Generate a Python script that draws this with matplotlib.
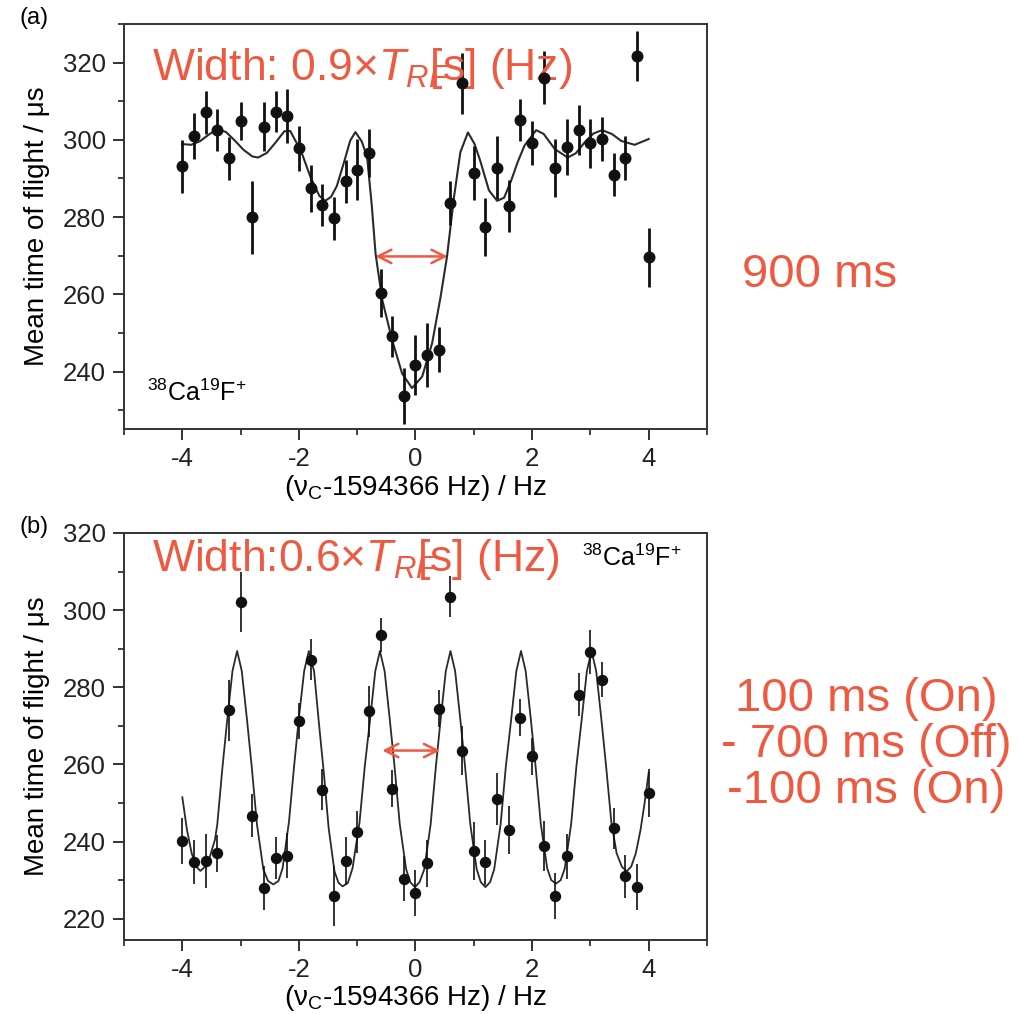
import matplotlib
matplotlib.use("Agg")
import matplotlib.pyplot as plt
from matplotlib.ticker import MultipleLocator

plt.rcParams["font.family"] = ["Liberation Sans", "DejaVu Sans"]
plt.rcParams["mathtext.fontset"] = "custom"
plt.rcParams["mathtext.rm"] = "Liberation Sans"
plt.rcParams["mathtext.it"] = "Liberation Sans:italic"
plt.rcParams["axes.unicode_minus"] = False

RED = "#EF5940"

# measured frequencies (both panels share the grid)
freq = [-4.0, -3.8, -3.6, -3.4, -3.2, -3.0, -2.8, -2.6, -2.4, -2.2, -2.0,
        -1.8, -1.6, -1.4, -1.2, -1.0, -0.8, -0.6, -0.4, -0.2, 0.0,
        0.2, 0.4, 0.6, 0.8, 1.0, 1.2, 1.4, 1.6, 1.8, 2.0,
        2.2, 2.4, 2.6, 2.8, 3.0, 3.2, 3.4, 3.6, 3.8, 4.0]

# (a) 900 ms continuous excitation
tof_a = [293.1, 300.9, 307.1, 302.5, 295.2, 304.9, 279.9, 303.4, 307.3, 306.2,
         297.8, 287.4, 283.1, 279.7, 289.2, 292.2, 296.6, 260.3, 249.1, 233.6,
         241.6, 244.3, 245.6, 283.6, 314.6, 291.3, 277.3, 292.8, 282.8, 305.1,
         299.2, 316.1, 292.7, 298.2, 302.5, 299.1, 300.3, 291.0, 295.2, 321.7,
         269.6]
err_a = [6.8, 6.0, 5.5, 5.5, 5.6, 5.0, 9.4, 6.4, 5.4, 7.0,
         5.8, 6.0, 5.4, 5.6, 5.6, 7.9, 6.2, 6.2, 5.4, 7.3,
         7.8, 8.2, 5.8, 5.6, 8.0, 7.0, 7.5, 8.2, 6.7, 5.5,
         5.6, 6.8, 7.5, 7.3, 6.4, 6.4, 5.7, 5.6, 5.7, 6.5,
         7.6]

# fit line (a)
fit_a_x = [-4.00, -3.85, -3.70, -3.55, -3.40, -3.25, -3.10, -2.95, -2.80, -2.70,
           -2.55, -2.40, -2.25, -2.15, -2.05, -1.95, -1.80, -1.65, -1.55, -1.45,
           -1.35, -1.22, -1.12, -1.03, -0.92, -0.83, -0.75, -0.685, -0.57, -0.40,
           -0.23, -0.06, 0.115, 0.285, 0.43, 0.54, 0.66, 0.77, 0.90, 1.01,
           1.11, 1.26, 1.40, 1.52, 1.64, 1.76, 1.87, 2.07, 2.20, 2.39,
           2.61, 2.75, 2.90, 3.05, 3.20, 3.37, 3.53, 3.76, 4.00]
fit_a_y = [298.9, 298.7, 299.6, 301.3, 302.8, 302.0, 299.8, 297.4, 295.7, 295.4,
           296.6, 299.3, 302.2, 302.3, 299.5, 296.5, 290.3, 285.5, 284.2, 285.2,
           288.0, 294.5, 299.8, 302.0, 299.5, 295.5, 283.0, 270.5, 258.5, 248.1,
           239.5, 235.7, 238.7, 247.3, 259.3, 269.7, 285.1, 296.8, 301.9, 299.0,
           294.6, 286.9, 284.2, 285.0, 289.4, 294.5, 298.5, 302.5, 301.5, 297.6,
           295.4, 296.5, 299.3, 301.6, 302.5, 301.5, 299.7, 298.7, 300.2]

# (b) 100 ms on - 700 ms off - 100 ms on
tof_b = [240.1, 234.7, 234.9, 237.0, 274.0, 302.1, 246.7, 227.9, 235.7, 236.3,
         271.2, 287.2, 253.5, 225.8, 235.0, 242.5, 273.8, 293.5, 253.7, 230.4,
         226.6, 234.4, 274.4, 303.5, 263.6, 237.6, 234.6, 251.0, 242.9, 272.1,
         262.1, 238.9, 225.9, 236.2, 278.1, 289.1, 282.0, 243.5, 231.0, 228.2,
         252.6]
err_b = [5.9, 5.6, 7.0, 4.8, 7.9, 7.9, 5.6, 5.7, 5.5, 5.8,
         4.7, 5.2, 5.2, 7.8, 6.2, 5.4, 6.6, 4.4, 4.8, 5.8,
         6.0, 6.1, 4.8, 5.3, 6.3, 7.6, 5.8, 6.8, 6.2, 4.8,
         4.8, 6.5, 5.9, 5.8, 5.5, 5.7, 4.5, 5.3, 5.6, 6.0,
         6.2]

fit_b_x = [-4.00, -3.92, -3.84, -3.76, -3.69, -3.61, -3.53, -3.44, -3.40, -3.31,
           -3.23, -3.14, -3.06, -2.98, -2.89, -2.81, -2.72, -2.61, -2.53, -2.44,
           -2.35, -2.28, -2.17, -2.08, -2.00, -1.91, -1.83, -1.74, -1.66, -1.57,
           -1.49, -1.39, -1.32, -1.25, -1.16, -1.08, -0.96, -0.87, -0.78, -0.69,
           -0.61, -0.53, -0.44, -0.36, -0.27, -0.16, -0.09, -0.01, 0.07, 0.15,
           0.26, 0.35, 0.43, 0.52, 0.60, 0.68, 0.77, 0.85, 0.94, 1.05,
           1.12, 1.20, 1.28, 1.35, 1.46, 1.55, 1.64, 1.73, 1.81, 1.89,
           1.98, 2.06, 2.15, 2.26, 2.33, 2.41, 2.49, 2.56, 2.67, 2.76,
           2.85, 2.94, 3.02, 3.10, 3.19, 3.27, 3.36, 3.45, 3.54, 3.62,
           3.70, 3.78, 3.86, 3.93, 4.00]
fit_b_y = [251.5, 243.0, 237.0, 233.5, 232.4, 233.5, 236.0, 240.5, 244.5, 259.5,
           271.5, 284.2, 289.4, 284.2, 271.5, 259.5, 244.5, 232.8, 229.8, 228.9,
           229.8, 233.1, 245.2, 260.0, 272.1, 284.2, 289.4, 284.2, 271.2, 257.4,
           243.5, 232.3, 229.3, 228.4, 229.3, 233.1, 245.0, 259.5, 271.5, 284.2,
           289.4, 284.2, 271.5, 259.5, 244.5, 232.8, 229.5, 228.2, 229.5, 232.8,
           244.5, 259.5, 271.5, 284.2, 289.4, 284.2, 271.5, 259.5, 244.5, 232.8,
           229.5, 228.2, 229.5, 232.8, 244.5, 259.5, 271.5, 284.2, 289.4, 284.2,
           271.5, 259.5, 244.5, 233.0, 230.0, 229.1, 230.0, 233.0, 244.5, 259.5,
           271.5, 284.2, 289.4, 284.2, 271.5, 259.5, 245.0, 237.0, 233.5, 232.3,
           233.5, 237.0, 243.0, 250.0, 257.8]

# FWHM arrows
arrow_a = (-0.69, 0.55, 269.8)
arrow_b = (-0.57, 0.42, 263.6)


def style_axes(ax, ylim, yticks):
    ax.set_xlim(-5, 5)
    ax.set_ylim(*ylim)
    ax.set_xticks([-4, -2, 0, 2, 4])
    ax.xaxis.set_minor_locator(MultipleLocator(1))
    ax.set_yticks(yticks)
    ax.yaxis.set_minor_locator(MultipleLocator(10))
    ax.tick_params(which="major", direction="out", length=8, width=1.3,
                   labelsize=18.5, colors="#222", pad=5)
    ax.tick_params(which="minor", direction="out", length=4.5, width=1.2, colors="#222")
    for s in ax.spines.values():
        s.set_linewidth(1.4)
        s.set_color("#333")
    ax.set_xlabel("(\u03bd$_{\\mathrm{C}}$-1594366 Hz) / Hz", fontsize=20, labelpad=1)
    ax.set_ylabel("Mean time of flight / \u03bcs", fontsize=20, labelpad=9)


fig = plt.figure(figsize=(10.2, 10.14), dpi=100)
ax_a = fig.add_axes([0.1216, 0.5765, 0.5715, 0.3999])
ax_b = fig.add_axes([0.1216, 0.073, 0.5715, 0.4014])

# (a)
ax_a.plot(fit_a_x, fit_a_y, color="#2a2a2a", lw=1.5, zorder=2)
ax_a.errorbar(freq, tof_a, yerr=err_a, fmt="o", color="#111", ms=7.6,
              elinewidth=2.0, capsize=0, zorder=3)
style_axes(ax_a, (225, 330), [240, 260, 280, 300, 320])
ax_a.annotate("", xy=(arrow_a[0], arrow_a[2]), xytext=(arrow_a[1], arrow_a[2]),
              arrowprops=dict(arrowstyle="<->", color=RED, lw=1.8,
                              mutation_scale=24, shrinkA=0, shrinkB=0), zorder=4)
ax_a.text(-4.52, 318.5, r"Width: 0.9$\times$$T_{RF}$$\!\!\!$[s] (Hz)", color=RED,
          fontsize=32, va="center", ha="left")
ax_a.text(-4.6, 234.5, r"$^{38}$Ca$^{19}$F$^{+}$", fontsize=18, va="center", ha="left")

# (b)
ax_b.plot(fit_b_x, fit_b_y, color="#2a2a2a", lw=1.3, zorder=2)
ax_b.errorbar(freq, tof_b, yerr=err_b, fmt="o", color="#111", ms=7.2,
              elinewidth=1.2, capsize=0, zorder=3)
style_axes(ax_b, (214.5, 320), [220, 240, 260, 280, 300, 320])
ax_b.annotate("", xy=(arrow_b[0], arrow_b[2]), xytext=(arrow_b[1], arrow_b[2]),
              arrowprops=dict(arrowstyle="<->", color=RED, lw=1.8,
                              mutation_scale=24, shrinkA=0, shrinkB=0), zorder=4)
ax_b.text(-4.52, 313.2, r"Width:0.6$\times$$T_{RF}$$\!\!\!$[s] (Hz)", color=RED,
          fontsize=32, va="center", ha="left")
ax_b.text(2.85, 313.5, r"$^{38}$Ca$^{19}$F$^{+}$", fontsize=18, va="center", ha="left")

# panel tags and timing notes
fig.text(20 / 1020, 1 - 18 / 1014, "(a)", fontsize=17, va="center", ha="left")
fig.text(20 / 1020, 1 - 527 / 1014, "(b)", fontsize=17, va="center", ha="left")
fig.text(820 / 1020, 1 - 275 / 1014, "900 ms", color=RED, fontsize=34,
         va="center", ha="center")
fig.text(866 / 1020, 1 - 745 / 1014, "100 ms (On)\n- 700 ms (Off)\n-100 ms (On)",
         color=RED, fontsize=34, va="center", ha="center", multialignment="center",
         linespacing=1.05)

fig.savefig("out.png", dpi=100, facecolor="white")
